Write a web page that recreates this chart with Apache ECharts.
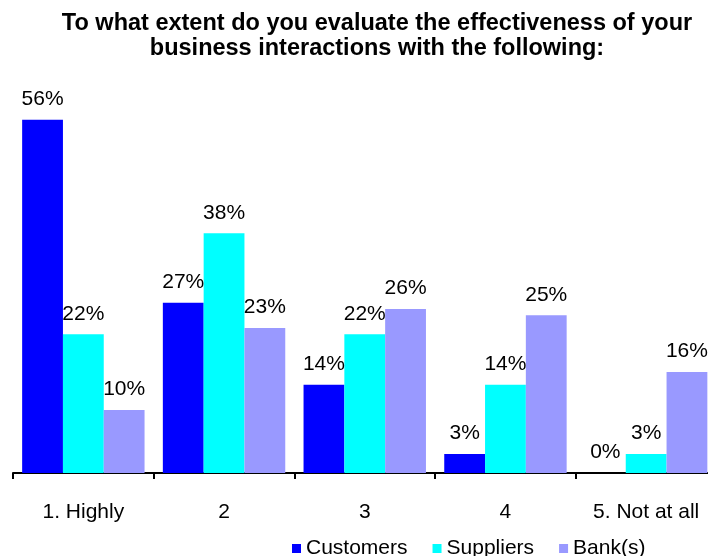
<!DOCTYPE html>
<html>
<head>
<meta charset="utf-8">
<script src="https://cdn.jsdelivr.net/npm/echarts@6/dist/echarts.min.js"></script>
<style>
  html, body { margin: 0; padding: 0; background: #fff; overflow: hidden; width: 708px; height: 556px; }
  #chart { width: 720px; height: 556px; }
</style>
</head>
<body>
<div id="chart"></div>
<script>
// Survey answers: share of respondents per rating
const categories = ['1. Highly', '2', '3', '4', '5. Not at all'];
const customers = [56, 27, 14, 3, 0];
const suppliers = [22, 38, 22, 14, 3];
const banks = [10, 23, 26, 25, 16];
const seriesNames = ['Customers', 'Suppliers', 'Bank(s)'];
const seriesColors = ['#0000FF', '#00FFFF', '#9999FF'];

const font = 'Liberation Sans, Arial, sans-serif';
const chart = echarts.init(document.getElementById('chart'));

function barSeries(name, data, color) {
  return {
    name: name,
    type: 'bar',
    data: data,
    barGap: '0%',
    barCategoryGap: '13%',
    itemStyle: { color: color },
    label: {
      show: true,
      position: 'top',
      distance: 10,
      formatter: '{c}%',
      color: '#000',
      fontFamily: font,
      fontSize: 21
    },
    emphasis: { disabled: true }
  };
}

chart.setOption({
  animation: false,
  title: {
    text: 'To what extent do you evaluate the effectiveness of your\nbusiness interactions with the following:',
    left: 372,
    textAlign: 'center',
    top: 6,
    textStyle: {
      fontFamily: font,
      fontWeight: 'bold',
      fontSize: 23.5,
      lineHeight: 25,
      color: '#000'
    }
  },
  legend: {
    data: seriesNames,
    left: 287,
    top: 533,
    itemWidth: 9,
    itemHeight: 9,
    itemGap: 25,
    icon: 'rect',
    textStyle: { fontFamily: font, fontSize: 21, color: '#000' }
  },
  // plot area runs a little past the visible right edge
  grid: { left: 13, top: 94.6, width: 703.5, height: 378.4, containLabel: false },
  xAxis: {
    type: 'category',
    data: categories,
    axisLine: { lineStyle: { color: '#000', width: 2 } },
    axisTick: { show: true, length: 6, lineStyle: { color: '#000', width: 2 } },
    axisLabel: { fontFamily: font, fontSize: 21, color: '#000', margin: 29 }
  },
  yAxis: {
    type: 'value',
    min: 0,
    max: 60,
    show: false,
    splitLine: { show: false }
  },
  series: [
    barSeries(seriesNames[0], customers, seriesColors[0]),
    barSeries(seriesNames[1], suppliers, seriesColors[1]),
    barSeries(seriesNames[2], banks, seriesColors[2])
  ]
});
</script>
</body>
</html>
